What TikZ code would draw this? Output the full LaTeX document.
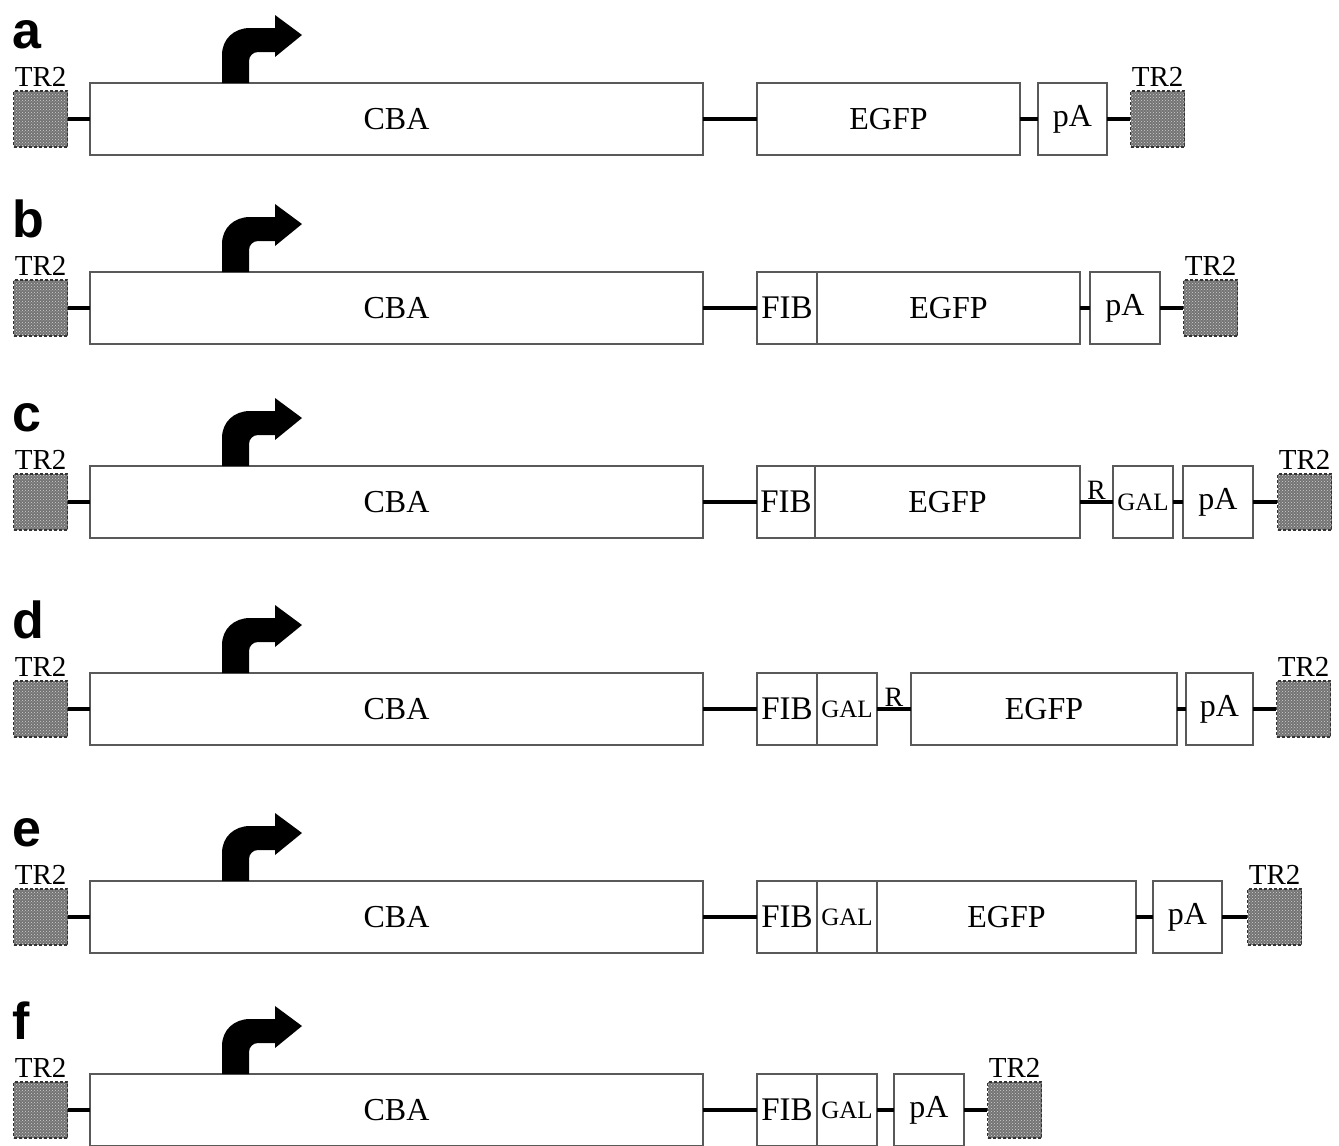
\documentclass[tikz,border=0pt]{standalone}
\usepackage{fontspec}
\setmainfont{Liberation Serif}
\newfontfamily\panelfont{Liberation Sans}
\usetikzlibrary{positioning, patterns}

\begin{document}
\begin{tikzpicture}[
	x=1pt, y=-1pt,
	font=\fontsize{32}{33}\selectfont,
	part/.style={draw=black!65, line width=1.8pt, fill=white, minimum height=72pt, inner sep=0pt, outer sep=0pt},
	tr/.style={draw=black!80, densely dashed, line width=1.2pt, preaction={fill=black!55}, pattern=crosshatch dots, pattern color=gray!35, minimum width=54pt, minimum height=56pt, inner sep=0pt},
	trlab/.style={above=4pt, inner sep=0pt, font=\fontsize{29}{30}\selectfont},
	fibtext/.style={font=\fontsize{33}{34}\selectfont},
	gal/.style={part, minimum width=60pt, font=\fontsize{25}{26}\selectfont},
	rlab/.style={above=1pt, inner sep=0pt, font=\fontsize{28}{29}\selectfont},
	link/.style={line width=4pt},
	panel/.style={anchor=base west, inner sep=0pt, font=\panelfont\bfseries\fontsize{52}{52}\selectfont},
	promoter/.pic={
		\fill (0,0) -- (0,-28) .. controls (0,-44) and (12,-55) .. (28,-55) -- (53,-55) -- (53,-68)
			-- (80,-48) -- (53,-26) -- (53,-31) -- (36,-31) .. controls (31,-31) and (27,-27) .. (27,-22)
			-- (27,0) -- cycle;
	}
]
\useasboundingbox (0,0) rectangle (1339,1146);

% shared start of every construct
\foreach \r/\yc in {a/119, b/308, c/502, d/709, e/917, f/1110} {
	\node[tr, anchor=west] (trl-\r) at (13,\yc) {};
	\node[trlab] (trllab-\r) at (trl-\r.north) {TR2};
	\node[part, anchor=west, minimum width=613pt] (cba-\r) at (90,\yc) {CBA};
	\node[panel] (lab-\r) at (12,\yc-71) {\r};
	\pic at (222,\yc-36) {promoter};
	\draw[link] (trl-\r) -- (cba-\r);
}

% a
\node[part, right=54pt of cba-a, minimum width=263pt] (egfp-a) {EGFP};
\node[part, right=18pt of egfp-a, minimum width=69pt] (pa-a) {pA};
\node[tr, right=23pt of pa-a] (trr-a) {};
\node[trlab] (trrlab-a) at (trr-a.north) {TR2};
\draw[link] (cba-a) -- (egfp-a);
\draw[link] (egfp-a) -- (pa-a);
\draw[link] (pa-a) -- (trr-a);

% b
\node[part, fibtext, right=54pt of cba-b, minimum width=60pt] (fib-b) {FIB};
\node[part, right=0pt of fib-b, minimum width=263pt] (egfp-b) {EGFP};
\node[part, right=10pt of egfp-b, minimum width=70pt] (pa-b) {pA};
\node[tr, right=23pt of pa-b] (trr-b) {};
\node[trlab] (trrlab-b) at (trr-b.north) {TR2};
\draw[link] (cba-b) -- (fib-b);
\draw[link] (egfp-b) -- (pa-b);
\draw[link] (pa-b) -- (trr-b);

% c
\node[part, fibtext, right=54pt of cba-c, minimum width=58pt] (fib-c) {FIB};
\node[part, right=0pt of fib-c, minimum width=265pt] (egfp-c) {EGFP};
\node[gal, right=33pt of egfp-c] (gal-c) {GAL};
\node[part, right=10pt of gal-c, minimum width=70pt] (pa-c) {pA};
\node[tr, right=24pt of pa-c] (trr-c) {};
\node[trlab] (trrlab-c) at (trr-c.north) {TR2};
\draw[link] (cba-c) -- (fib-c);
\draw[link] (egfp-c) -- node[rlab] (r-c) {R} (gal-c);
\draw[link] (gal-c) -- (pa-c);
\draw[link] (pa-c) -- (trr-c);

% d
\node[part, fibtext, right=54pt of cba-d, minimum width=60pt] (fib-d) {FIB};
\node[gal, right=0pt of fib-d] (gal-d) {GAL};
\node[part, right=34pt of gal-d, minimum width=266pt] (egfp-d) {EGFP};
\node[part, right=9pt of egfp-d, minimum width=67pt] (pa-d) {pA};
\node[tr, right=23pt of pa-d] (trr-d) {};
\node[trlab] (trrlab-d) at (trr-d.north) {TR2};
\draw[link] (cba-d) -- (fib-d);
\draw[link] (gal-d) -- node[rlab] (r-d) {R} (egfp-d);
\draw[link] (egfp-d) -- (pa-d);
\draw[link] (pa-d) -- (trr-d);

% e
\node[part, fibtext, right=54pt of cba-e, minimum width=60pt] (fib-e) {FIB};
\node[gal, right=0pt of fib-e] (gal-e) {GAL};
\node[part, right=0pt of gal-e, minimum width=259pt] (egfp-e) {EGFP};
\node[part, right=17pt of egfp-e, minimum width=69pt] (pa-e) {pA};
\node[tr, right=25pt of pa-e] (trr-e) {};
\node[trlab] (trrlab-e) at (trr-e.north) {TR2};
\draw[link] (cba-e) -- (fib-e);
\draw[link] (egfp-e) -- (pa-e);
\draw[link] (pa-e) -- (trr-e);

% f
\node[part, fibtext, right=54pt of cba-f, minimum width=60pt] (fib-f) {FIB};
\node[gal, right=0pt of fib-f] (gal-f) {GAL};
\node[part, right=17pt of gal-f, minimum width=70pt] (pa-f) {pA};
\node[tr, right=23pt of pa-f] (trr-f) {};
\node[trlab] (trrlab-f) at (trr-f.north) {TR2};
\draw[link] (cba-f) -- (fib-f);
\draw[link] (gal-f) -- (pa-f);
\draw[link] (pa-f) -- (trr-f);

\end{tikzpicture}
\end{document}
